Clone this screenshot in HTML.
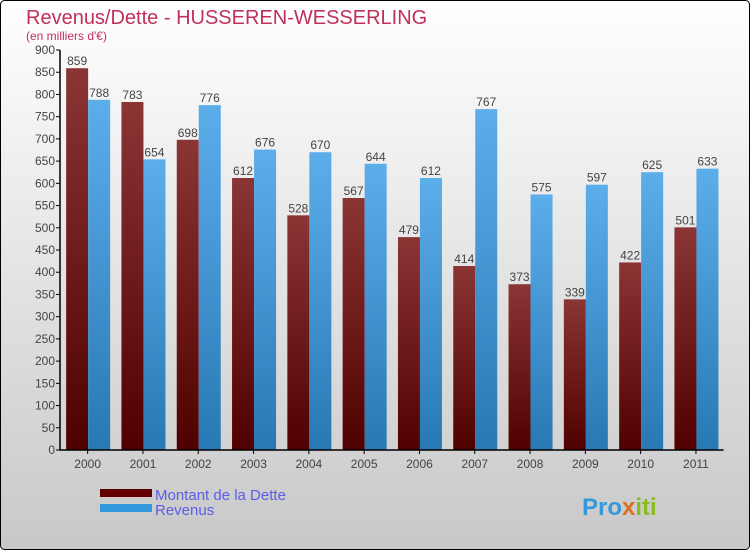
<!DOCTYPE html>
<html><head><meta charset="utf-8"><style>
body{margin:0}
#c{width:750px;height:550px;position:relative;overflow:hidden;font-family:"Liberation Sans",sans-serif}
</style></head><body>
<div id="c">
<svg width="750" height="550" xmlns="http://www.w3.org/2000/svg" id="svg">
<defs>
<linearGradient id="bg" x1="0" y1="0" x2="0" y2="1"><stop offset="0" stop-color="#ffffff"/><stop offset="1" stop-color="#c8c8c8"/></linearGradient>
<linearGradient id="gd" x1="0" y1="0" x2="0" y2="1"><stop offset="0" stop-color="#8b3535"/><stop offset="1" stop-color="#500000"/></linearGradient>
<linearGradient id="gr" x1="0" y1="0" x2="0" y2="1"><stop offset="0" stop-color="#5caeea"/><stop offset="1" stop-color="#2878b4"/></linearGradient>
</defs>
<rect x="0.5" y="0.5" width="749" height="549" rx="4" fill="url(#bg)" stroke="#000"/>
<text x="26" y="24" font-size="20" fill="#c0305a">Revenus/Dette - HUSSEREN-WESSERLING</text>
<text x="26" y="40" font-size="12" fill="#c0305a">(en milliers d'€)</text>
<g id="plot"></g>
<rect x="100" y="489" width="52" height="8" fill="#600000"/>
<text x="155" y="500" font-size="15" fill="#5b5bea">Montant de la Dette</text>
<rect x="100" y="504" width="52" height="8" fill="#3399dd"/>
<text x="155" y="515" font-size="15" fill="#5b5bea">Revenus</text>
<text x="582" y="515" font-size="24" font-weight="bold" fill="#3399dd">Pro<tspan fill="#e07020">x</tspan><tspan fill="#88bb22">iti</tspan></text>
</svg>
</div>
<script>
const categories=["2000","2001","2002","2003","2004","2005","2006","2007","2008","2009","2010","2011"];
const dette=[859,783,698,612,528,567,479,414,373,339,422,501];
const revenus=[788,654,776,676,670,644,612,767,575,597,625,633];
const ticks=[0,50,100,150,200,250,300,350,400,450,500,550,600,650,700,750,800,850,900];
const NS="http://www.w3.org/2000/svg";
const g=document.getElementById('plot');
const X0=60,Y0=450,H=400,MAX=900,STEP=55.3;
const y=v=>Y0-v/MAX*H;
const cx=i=>X0+STEP*(i+0.5);
function mk(t,a,txt){const e=document.createElementNS(NS,t);for(const k in a)e.setAttribute(k,a[k]);if(txt!==undefined)e.textContent=txt;g.appendChild(e);return e;}
ticks.forEach(t=>{
 const l=mk('line',{x1:X0-4,x2:X0,y1:y(t),y2:y(t),stroke:'#000'});
 
 
 const tx=mk('text',{x:X0-5,y:y(t)+4,'font-size':12,fill:'#444','text-anchor':'end'},t);
 
 
});
categories.forEach((c,i)=>{
 const b1=mk('rect',{x:cx(i)-21.5,y:y(dette[i]),width:22,height:Y0-y(dette[i]),fill:'url(#gd)'});
 
 
 const b2=mk('rect',{x:cx(i)+0.5,y:y(revenus[i]),width:22,height:Y0-y(revenus[i]),fill:'url(#gr)'});
 
 
 const v1=mk('text',{x:cx(i)-10.5,y:y(dette[i])-3,'font-size':12,fill:'#444','text-anchor':'middle'},dette[i]);
 
 
 const v2=mk('text',{x:cx(i)+11.5,y:y(revenus[i])-3,'font-size':12,fill:'#444','text-anchor':'middle'},revenus[i]);
 
 
 const tk=mk('line',{x1:cx(i),x2:cx(i),y1:Y0,y2:Y0+4,stroke:'#000'});
 
 
 const lb=mk('text',{x:cx(i),y:Y0+18,'font-size':12,fill:'#444','text-anchor':'middle'},c);
 
 
});
const ax=mk('path',{d:`M${X0} ${y(MAX)}V${Y0}H${X0+STEP*12}`,fill:'none',stroke:'#000','stroke-width':1.5});


</script>
</body></html>
